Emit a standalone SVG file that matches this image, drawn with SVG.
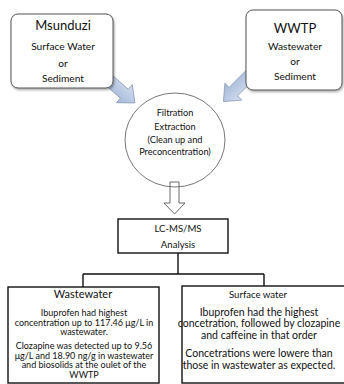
<svg xmlns="http://www.w3.org/2000/svg" width="344" height="384" viewBox="0 0 344 384">
<style>
text{font-family:"Lato","Liberation Sans",sans-serif;fill:#111;text-anchor:middle}
.src{fill:#fff;stroke:#555;stroke-width:1}
.blk{fill:url(#blue);stroke:#8c9cb5;stroke-width:0.8}
.box{fill:#fff;stroke:#111;stroke-width:1.4}
.ln{fill:none;stroke:#111;stroke-width:1.4}
.t13{font-size:13px}
.ts{font-size:10.2px}
.tc{font-size:9.2px}
.tl{font-size:9.6px}
.t8{font-size:9px}
.t10{font-size:10.5px}
</style>
<defs>
<linearGradient id="blue" x1="0" y1="0" x2="0" y2="1">
<stop offset="0" stop-color="#d3def0"/>
<stop offset="1" stop-color="#a3b7d8"/>
</linearGradient>
<filter id="sh" x="-10%" y="-10%" width="130%" height="130%">
<feDropShadow dx="1" dy="1.5" stdDeviation="1" flood-color="#000" flood-opacity="0.35"/>
</filter>
</defs>
<g id="connectors">
<polygon class="blk" transform="translate(95,68) rotate(41.2)" points="0,-6 39,-6 39,-12 53,0 39,12 39,6 0,6"/>
<polygon class="blk" transform="translate(256,69) rotate(135)" points="0,-6 32,-6 32,-12 46,0 32,12 32,6 0,6"/>
<polygon fill="#fff" stroke="#444" stroke-width="0.8" points="170,182 179,182 179,203 185,203 174.5,214 164,203 170,203"/>
<path class="ln" d="M178,253V274M83,274H264M83,274V287M264,274V286"/>
</g>
<g id="msunduzi">
<rect class="src" x="11" y="14" width="102" height="74" rx="7" filter="url(#sh)"/>
<text class="t13" x="63" y="30">Msunduzi</text>
<text class="ts" x="63" y="50">Surface Water</text>
<text class="ts" x="63" y="67">or</text>
<text class="ts" x="63" y="82">Sediment</text>
</g>
<g id="wwtp">
<rect class="src" x="246" y="10" width="96" height="80" rx="7" filter="url(#sh)"/>
<text class="t13" x="295" y="33">WWTP</text>
<text class="ts" x="295" y="50">Wastewater</text>
<text class="ts" x="295" y="65">or</text>
<text class="ts" x="295" y="80">Sediment</text>
</g>
<g id="filtration">
<ellipse cx="175" cy="140" rx="50" ry="47" fill="none" stroke="#555" stroke-width="0.8"/>
<text class="tc" x="175" y="116">Filtration</text>
<text class="tc" x="175" y="130">Extraction</text>
<text class="tc" x="175" y="143">(Clean up and</text>
<text class="tc" x="175" y="155">Preconcentration)</text>
</g>
<g id="lcms">
<rect class="box" x="118" y="219" width="110" height="34"/>
<text class="tl" x="178" y="232">LC-MS/MS</text>
<text class="tl" x="178" y="248">Analysis</text>
</g>
<g id="wastewater">
<rect class="box" x="8" y="287" width="151" height="96"/>
<text style="font-size:11px" x="83" y="298">Wastewater</text>
<text class="t8" x="84" y="316">Ibuprofen had highest</text>
<text class="t8" x="84" y="325.6">concentration up to 117.46 μg/L in</text>
<text class="t8" x="84" y="335.2">wastewater.</text>
<text class="t8" x="84" y="349">Clozapine was detected up to 9.56</text>
<text class="t8" x="84" y="358.6">μg/L and 18.90 ng/g in wastewater</text>
<text class="t8" x="84" y="368.2">and biosolids at the oulet of the</text>
<text class="t8" x="84" y="377.8">WWTP</text>
</g>
<g id="surface">
<rect class="box" x="182" y="286" width="164" height="97"/>
<text style="font-size:9.6px" x="258" y="298">Surface water</text>
<text class="t10" x="259" y="316">Ibuprofen had the highest</text>
<text class="t10" x="259" y="327">concetration, followed by clozapine</text>
<text class="t10" x="259" y="339">and caffeine in that order</text>
<text class="t10" x="259" y="357">Concetrations were lowere than</text>
<text class="t10" x="259" y="369">those in wastewater as expected.</text>
</g>
</svg>
